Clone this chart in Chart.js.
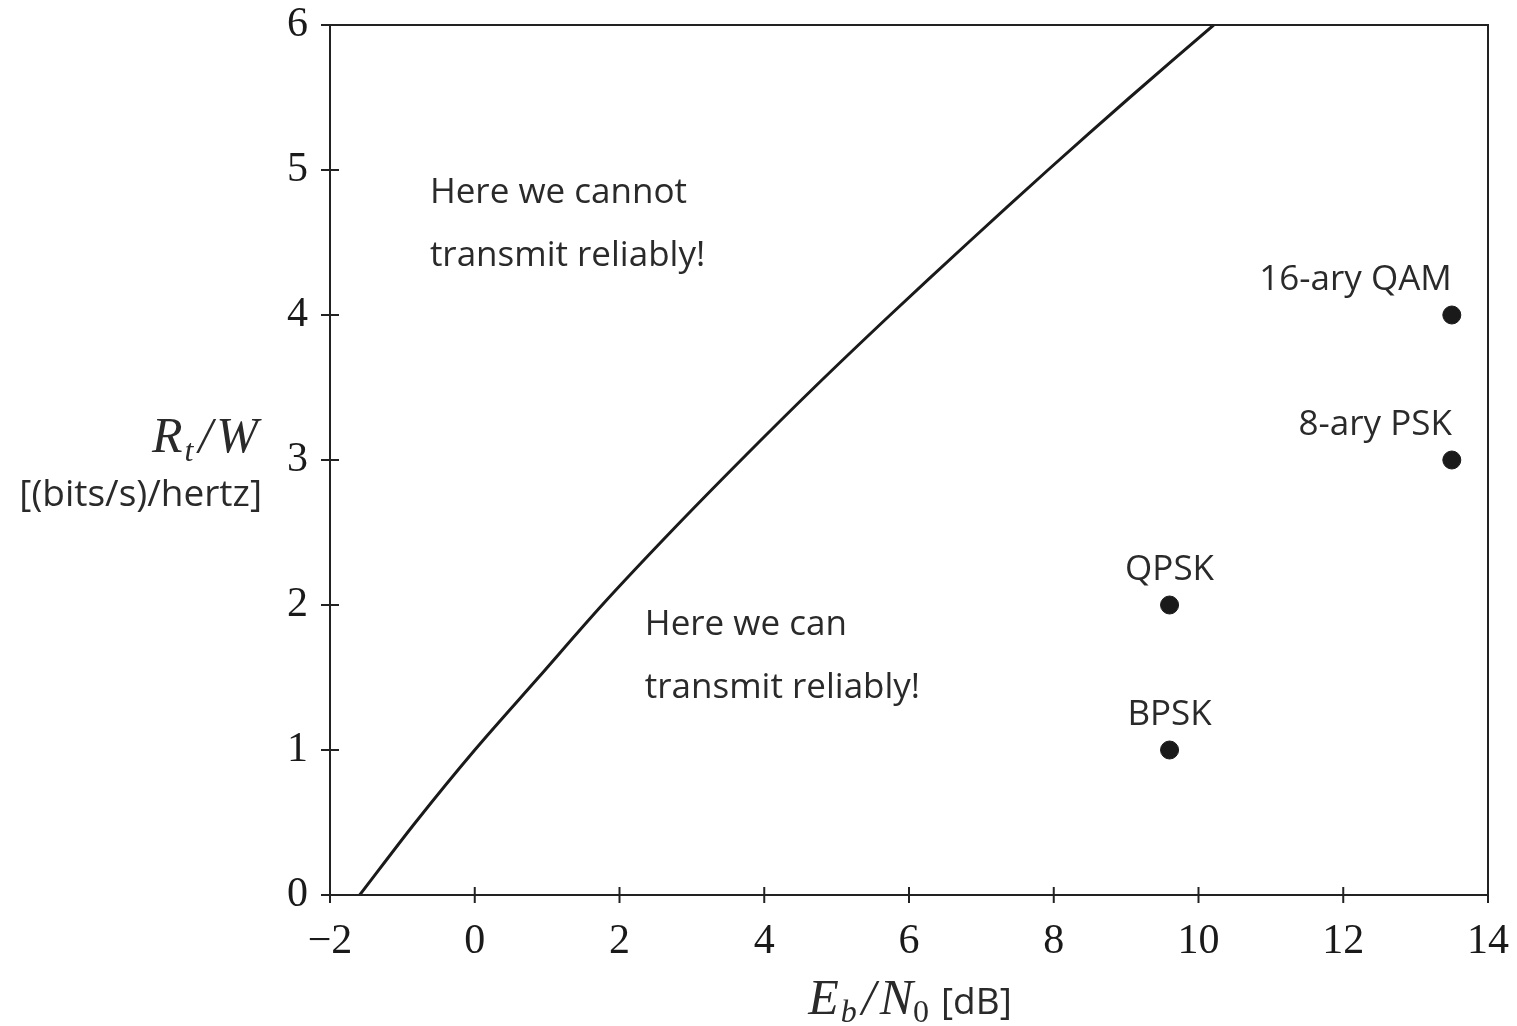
<!DOCTYPE html>
<html>
<head>
<meta charset="utf-8">
<script src="https://cdn.jsdelivr.net/npm/chart.js@4.4.0/dist/chart.umd.min.js"></script>
<style>
  html, body { margin: 0; padding: 0; background: #fff; }
  canvas { display: block; }
</style>
</head>
<body>
<canvas id="capChart" width="1517" height="1026"></canvas>
<script>
// capacity limit (Eb/N0 in dB vs Rt/W)
var limitRate = [0, 0.5, 1, 1.5, 2, 2.5, 3, 3.5, 4, 4.5, 5, 5.5, 6];
var limitEbN0 = [-1.59, -0.82, 0.0, 0.88, 1.76, 2.70, 3.68, 4.69, 5.74, 6.82, 7.92, 9.05, 10.21];

// modulation schemes
var schemes    = ['BPSK', 'QPSK', '8-ary PSK', '16-ary QAM'];
var schemeEbN0 = [9.6, 9.6, 13.5, 13.5];
var schemeRate = [1, 2, 3, 4];

var xTicks = [-2, 0, 2, 4, 6, 8, 10, 12, 14];
var yTicks = [0, 1, 2, 3, 4, 5, 6];

var serif = "'Liberation Serif', 'DejaVu Serif', serif";
var sans  = "'Open Sans', 'DejaVu Sans', sans-serif";
var ink   = '#1a1a1a';

var curvePts = limitRate.map(function (r, i) { return { x: limitEbN0[i], y: r }; });
var schemePts = schemes.map(function (s, i) { return { x: schemeEbN0[i], y: schemeRate[i], label: s }; });

// helper: draw a run of [text, font, dy, gap] pieces
function drawRun(ctx, parts, x, y) {
  parts.forEach(function (p) {
    ctx.font = p[1];
    ctx.fillText(p[0], x, y + (p[2] || 0));
    x += ctx.measureText(p[0]).width + (p[3] || 0);
  });
  return x;
}
function runWidth(ctx, parts) {
  var w = 0;
  parts.forEach(function (p) { ctx.font = p[1]; w += ctx.measureText(p[0]).width + (p[3] || 0); });
  return w;
}

// frame, ticks crossing the axes, labels, axis titles
var decor = {
  id: 'decor',
  afterDraw: function (chart) {
    var ctx = chart.ctx, a = chart.chartArea;
    var xs = chart.scales.x, ys = chart.scales.y;
    ctx.save();
    ctx.strokeStyle = '#222';
    ctx.lineWidth = 2;
    ctx.strokeRect(a.left, a.top, a.right - a.left, a.bottom - a.top);

    xTicks.forEach(function (v) {
      var px = xs.getPixelForValue(v);
      ctx.beginPath(); ctx.moveTo(px, a.bottom - 8); ctx.lineTo(px, a.bottom + 8); ctx.stroke();
    });
    yTicks.forEach(function (v) {
      var py = ys.getPixelForValue(v);
      ctx.beginPath(); ctx.moveTo(a.left - 9, py); ctx.lineTo(a.left + 9, py); ctx.stroke();
    });

    // region notes
    ctx.fillStyle = '#2a2a2a';
    ctx.font = '35px ' + sans;
    ctx.textAlign = 'left';
    ctx.textBaseline = 'middle';
    var notes = [
      { x: -0.62, y: 4.84, t: 'Here we cannot' },
      { x: -0.62, y: 4.41, t: 'transmit reliably!' },
      { x: 2.35, y: 1.86, t: 'Here we can' },
      { x: 2.35, y: 1.43, t: 'transmit reliably!' }
    ];
    notes.forEach(function (n) {
      ctx.fillText(n.t, xs.getPixelForValue(n.x), ys.getPixelForValue(n.y));
    });

    // scheme labels
    schemePts.forEach(function (p) {
      var px = xs.getPixelForValue(p.x), py = ys.getPixelForValue(p.y);
      ctx.textAlign = p.x > 12 ? 'right' : 'center';
      ctx.fillText(p.label, px, py - 35);
    });

    // y title: Rt/W
    ctx.textBaseline = 'alphabetic';
    ctx.textAlign = 'left';
    var ital = 'italic 50px ' + serif, sub = 'italic 32px ' + serif;
    var rParts = [['R', ital, 0, 2], ['t', sub, 9, 5], ['/', ital, 0, 4], ['W', ital]];
    drawRun(ctx, rParts, 258 - runWidth(ctx, rParts), 452);
    ctx.font = '37px ' + sans;
    ctx.textAlign = 'right';
    ctx.fillText('[(bits/s)/hertz]', 262, 506);

    // x title: Eb/N0 [dB]
    ctx.textAlign = 'left';
    var eParts = [['E', ital, 0, 2], ['b', sub, 8, 5], ['/', ital, 0, 4], ['N', ital], ['0', '32px ' + serif, 8, 12], ['[dB]', '37px ' + sans]];
    drawRun(ctx, eParts, 910 - runWidth(ctx, eParts) / 2, 1014);
    ctx.restore();
  }
};

new Chart(document.getElementById('capChart').getContext('2d'), {
  type: 'scatter',
  data: {
    datasets: [
      {
        label: 'limit',
        data: curvePts,
        showLine: true,
        borderColor: ink,
        borderWidth: 3,
        pointRadius: 0,
        tension: 0.3,
        fill: false
      },
      {
        label: 'schemes',
        data: schemePts,
        backgroundColor: ink,
        borderColor: ink,
        pointRadius: 9,
        showLine: false
      }
    ]
  },
  options: {
    responsive: false,
    animation: false,
    layout: { padding: { top: 25, right: 29, left: 0, bottom: 0 } },
    plugins: { legend: { display: false }, tooltip: { enabled: false } },
    scales: {
      x: {
        type: 'linear', min: -2, max: 14,
        afterFit: function (s) { s.height = 131; s.paddingLeft = 0; s.paddingRight = 0; },
        afterBuildTicks: function (s) { s.ticks = xTicks.map(function (v) { return { value: v }; }); },
        grid: { display: false, drawTicks: false },
        border: { display: false },
        ticks: {
          padding: 22, color: ink, font: { family: serif, size: 42 },
          callback: function (v) { return String(v).replace('-', '\u2212'); }
        }
      },
      y: {
        type: 'linear', min: 0, max: 6,
        afterFit: function (s) { s.width = 330; s.paddingTop = 0; s.paddingBottom = 0; },
        afterBuildTicks: function (s) { s.ticks = yTicks.map(function (v) { return { value: v }; }); },
        grid: { display: false, drawTicks: false },
        border: { display: false },
        ticks: { padding: 22, color: ink, font: { family: serif, size: 42 } }
      }
    }
  },
  plugins: [decor]
});
</script>
</body>
</html>
